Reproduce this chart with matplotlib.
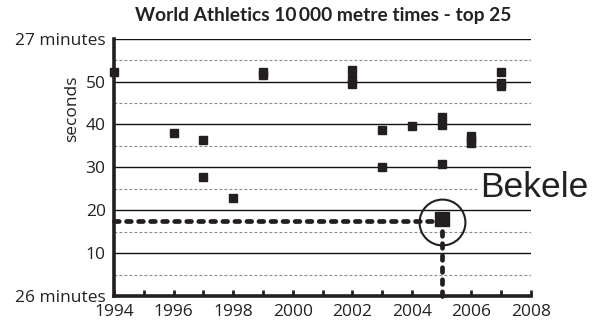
import matplotlib
matplotlib.use("Agg")
import matplotlib.pyplot as plt

# ---- data ----
years = [1994, 1996, 1997, 1997, 1998, 1999, 1999,
         2002, 2002, 2002, 2003, 2003, 2004,
         2005, 2005, 2005, 2006, 2006, 2006,
         2007, 2007, 2007]
seconds = [52.3, 38.1, 36.3, 27.8, 22.8, 52.2, 51.5,
           52.8, 50.6, 49.4, 38.8, 30.0, 39.7,
           41.8, 39.8, 30.8, 37.3, 36.4, 35.7,
           52.3, 49.6, 49.0]
bekele_year = 2005
bekele_seconds = 17.53

title = "World Athletics 10\u2009000 metre times - top 25"
x_ticks = list(range(1994, 2009, 2))
x_minor = list(range(1995, 2009))
y_major = [10, 20, 30, 40, 50]
y_minor = [5, 15, 25, 35, 45, 55]

plt.rcParams['font.family'] = ['Open Sans', 'DejaVu Sans']

fig = plt.figure(figsize=(5.97, 3.26), dpi=100)
ax = fig.add_axes([114/597, 1-296/326, (531-114)/597, (296-38.7)/326])
ax.set_xlim(1994, 2008)
ax.set_ylim(0, 60)

# gridlines
for v in y_major + [60]:
    ax.axhline(v, color='#111111', lw=1.0, zorder=1)
for v in y_minor:
    ax.axhline(v, color='#888888', lw=0.8, ls=(0, (2.5, 2.0)), zorder=1)

ink = '#231f20'
ax.plot(years, seconds, ls='none', marker='s', ms=5.2, color=ink,
        mec=ink, clip_on=False, zorder=4)

# highlight lines
ax.plot([1994, bekele_year], [bekele_seconds, bekele_seconds], color=ink,
        lw=3.4, ls=(0, (1.0, 1.55)), dash_capstyle='round', clip_on=False, zorder=3)
ax.plot([bekele_year, bekele_year], [0, bekele_seconds], color=ink,
        lw=3.4, ls=(0, (1.0, 1.55)), dash_capstyle='round', clip_on=False, zorder=3)
ax.plot([bekele_year], [bekele_seconds + 0.4], ls='none', marker='s', ms=9.5,
        color=ink, zorder=5)
ax.plot([bekele_year], [bekele_seconds - 0.2], ls='none', marker='o', ms=33,
        mfc='none', mec=ink, mew=1.5, zorder=5)
ax.text(2006.3, 25.3, "Bekele", family=['Liberation Sans'], fontsize=25.5,
        ha='left', va='center', color='#222222',
        bbox=dict(facecolor='white', edgecolor='none', pad=1.0), zorder=6)

# spines
for s in ['top', 'right']:
    ax.spines[s].set_visible(False)
ax.spines['left'].set_linewidth(2.6)
ax.spines['bottom'].set_linewidth(2.6)
ax.spines['left'].set_color(ink)
ax.spines['bottom'].set_color(ink)
ax.spines['left'].set_zorder(7)
ax.spines['bottom'].set_zorder(7)

ax.set_xticks(x_ticks)
ax.set_xticklabels([str(t) for t in x_ticks])
ax.set_xticks(x_minor, minor=True)
ax.tick_params(axis='x', which='both', direction='in', length=4.5, width=2.0,
               color=ink, labelsize=12.5, pad=6)
ax.set_yticks([0] + y_major + [60])
ax.set_yticklabels(["26 minutes"] + [str(v) for v in y_major] + ["27 minutes"])
ax.tick_params(axis='y', length=0, labelsize=12.5, pad=6)
for lab in ax.get_xticklabels():
    lab.set_color('#222222')
for lab in ax.get_yticklabels():
    lab.set_color('#222222')

fig.text(72/597, 1-109/326, "seconds", rotation=90, ha='center', va='center',
         fontsize=12.5, color='#222222')
fig.text(323.5/597, 1-20.5/326, title, ha='center', va='baseline',
         fontsize=13.8, fontweight='bold', family=['Lato', 'DejaVu Sans'],
         color='#222222')

fig.savefig("out.png", dpi=100)
